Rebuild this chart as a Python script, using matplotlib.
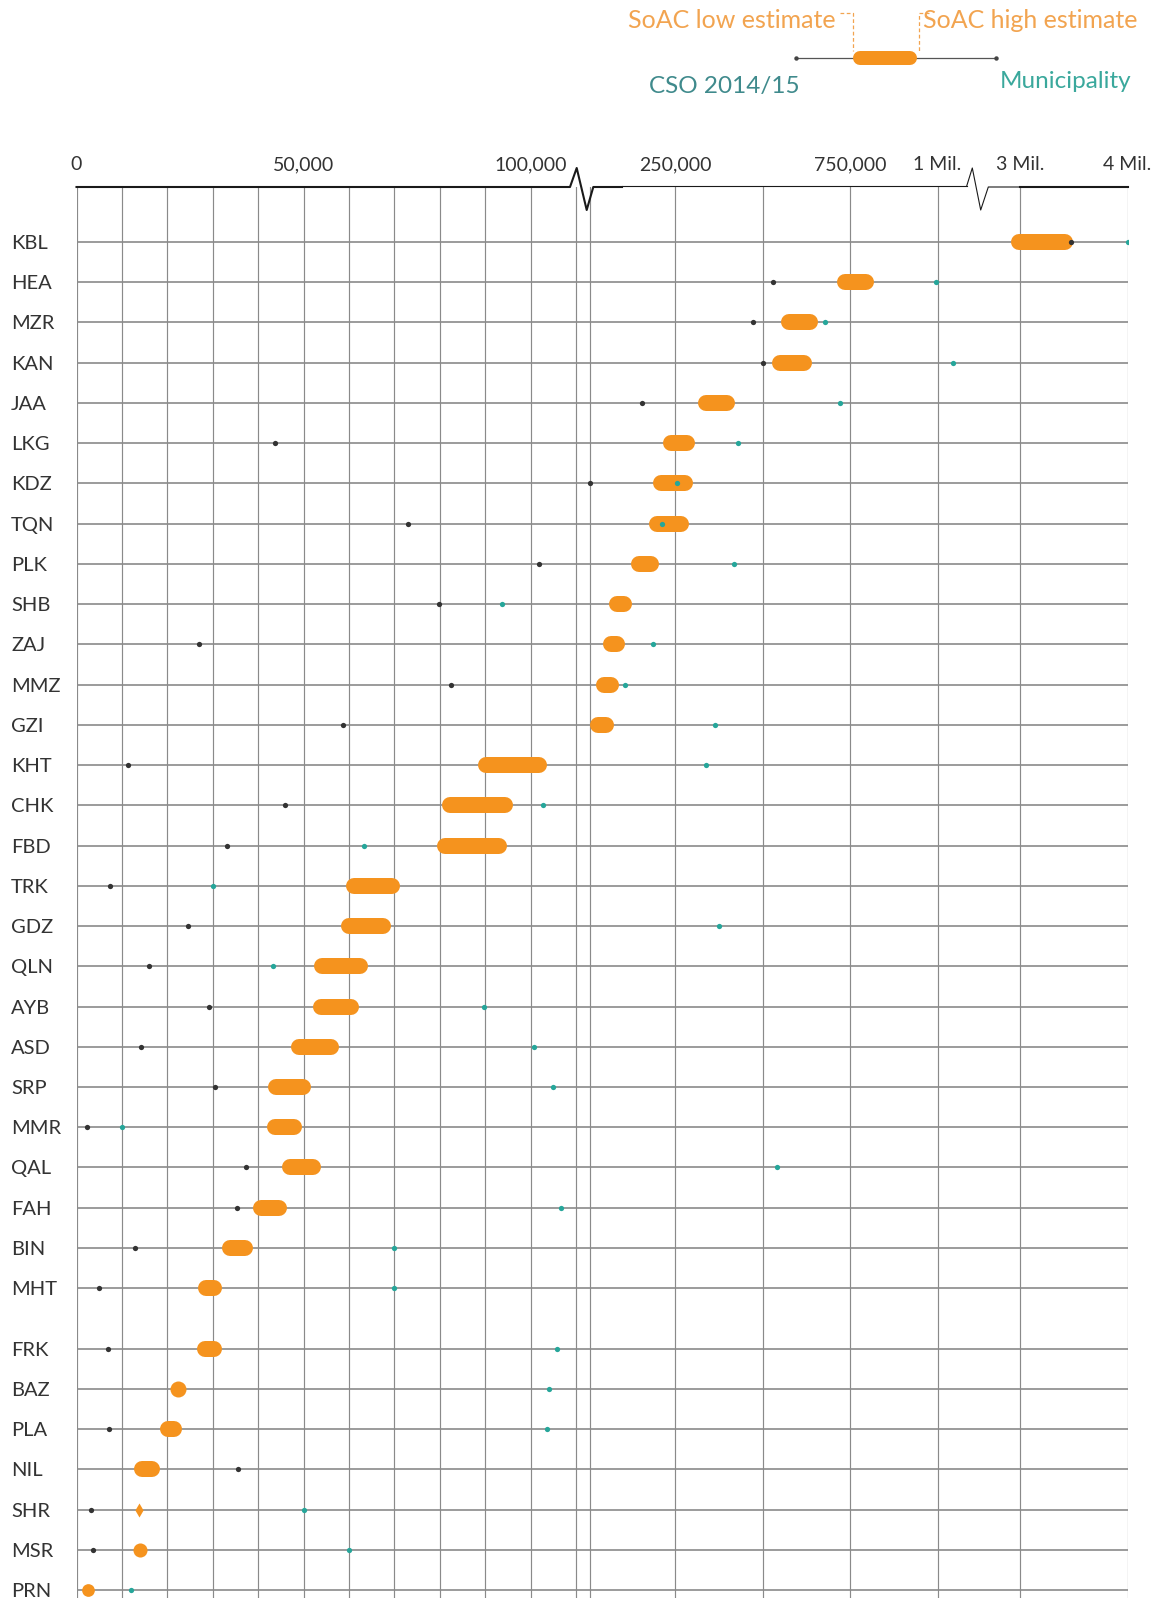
import numpy as np
import matplotlib
matplotlib.use("Agg")
import matplotlib.pyplot as plt
from matplotlib import transforms as mtransforms
from matplotlib.lines import Line2D
from matplotlib.ticker import NullLocator

# rows, top to bottom
rows = ["KBL", "HEA", "MZR", "KAN", "JAA", "LKG", "KDZ", "TQN", "PLK", "SHB",
        "ZAJ", "MMZ", "GZI", "KHT", "CHK", "FBD", "TRK", "GDZ", "QLN", "AYB",
        "ASD", "SRP", "MMR", "QAL", "FAH", "BIN", "MHT", "FRK", "BAZ", "PLA",
        "NIL", "SHR", "MSR", "PRN"]

# CSO 2014/15 estimate (nan = not visible in the chart)
cso = [3472000, 529000, 474000, 502000, 195000, 43700, 110800, 72900, 101800, 79900,
       27000, 82500, 58600, 11400, 46000, 33200, 7400, 24500, 16000, 29100,
       14200, 30500, 2400, 37300, 35400, 12800, 4900, 7000, np.nan, 7200,
       35500, 3200, 3600, np.nan]

# municipality estimate
municipality = [4000000, 995000, 678000, 1045000, 720000, 431000, 256600, 228400, 418600, 93600,
                213800, 168000, 364600, 339400, 102700, 63400, 30100, 375000, 43200, 89800,
                100800, 105000, 10100, 541000, 106700, 70000, 70000, 105800, 104100, 103700,
                np.nan, 50000, 60100, 12000]

# SoAC low / high estimates
soac_low = [2914000, 714000, 554000, 527000, 317000, 230000, 213800, 207500, 177500, 140600,
            131200, 120400, 110800, 88500, 80500, 79300, 59400, 58200, 52300, 52100,
            47200, 42200, 42000, 45300, 38800, 32100, 26800, 26600, 20500, 18400,
            12700, 12900, 12400, 1100]
soac_high = [3490000, 819000, 659000, 642000, 420000, 308000, 300600, 289700, 223300, 179500,
             168000, 158400, 149000, 103700, 96100, 94900, 71200, 69300, 64100, 62200,
             57800, 51600, 49600, 53800, 46400, 38800, 32100, 32100, 24100, 23200,
             18400, 14700, 15500, 3900]

tick_values = [0, 50000, 100000, 250000, 750000, 1000000, 3000000, 4000000]
tick_labels = ["0", "50,000", "100,000", "250,000", "750,000", "1 Mil.", "3 Mil.", "4 Mil."]
grid_values = list(range(0, 110001, 10000)) + [110001, 250000, 500000, 750000, 1000000, 3000000, 4000000]

ORANGE = "#F5931E"
LEG_ORANGE = "#F2A450"
TEAL = "#26A69A"
DARK = "#333333"
GRID = "#8A8A8A"

# broken axis: value -> pixel x (piecewise linear)
knot_v = [0, 110000, 110001, 250000, 1100000, 2700000, 4000000]
knot_x = [76.5, 576, 590, 675, 675 + 850000 / 250000 * 87.5, 988, 1127.5]

def fwd(v):
    return np.interp(v, knot_v, knot_x)

def inv(x):
    return np.interp(x, knot_x, knot_v)

W, H = 1155, 1598
fig = plt.figure(figsize=(W / 100, H / 100), dpi=100)
pix = mtransforms.Affine2D().scale(1 / W, -1 / H).translate(0, 1) + fig.transFigure

ax_top = 187
ax = fig.add_axes([76.5 / W, 0, (1127.5 - 76.5) / W, 1 - ax_top / H])
ax.set_xscale("function", functions=(fwd, inv))
ax.set_xlim(0, 4000000)

# row positions, a little extra space above FRK like the original
ypos = np.arange(len(rows), dtype=float)
ypos[rows.index("FRK"):] += 0.5
unit = (1590 - 242) / ypos[-1]
ax.set_ylim(ypos[-1] + (H - 1590) / unit, -(242 - ax_top) / unit)

for s in ax.spines.values():
    s.set_visible(False)

# grid
for g in grid_values:
    ax.axvline(g, color=GRID, lw=0.85, zorder=1)
ax.hlines(ypos, 0, 4000000, color=GRID, lw=1.2, zorder=1)

# ticks
ax.xaxis.set_ticks_position("top")
ax.set_xticks(tick_values)
ax.set_xticklabels(tick_labels, family="Lato", fontsize=14, color=DARK)
ax.xaxis.set_minor_locator(NullLocator())
ax.tick_params(axis="x", length=0, pad=10)
ax.set_yticks(ypos)
ax.set_yticklabels(rows, family="Lato", fontsize=14.5, color=DARK, ha="left")
ax.tick_params(axis="y", length=0, pad=(76.5 - 11) * 0.72)

# SoAC bars: pill shapes whose outer edges sit on low and high values
bar_px = 16
for lo, hi, y in zip(soac_low, soac_high, ypos):
    (x0, yd), (x1, _) = ax.transData.transform([(lo, y), (hi, y)])
    w = x1 - x0
    if w > bar_px + 3:
        a, b = ax.transData.inverted().transform([(x0 + bar_px / 2, yd), (x1 - bar_px / 2, yd)])
        ax.plot([a[0], b[0]], [y, y], color=ORANGE, lw=bar_px * 0.72,
                solid_capstyle="round", zorder=3)
    else:
        mid = ax.transData.inverted().transform([((x0 + x1) / 2, yd)])[0][0]
        if w >= 11:
            ax.plot(mid, y, "o", ms=min(w, bar_px) * 0.72, color=ORANGE, mec="none", zorder=3)
        else:
            k = w / 14
            diamond = [(-k, 0), (0, 1), (k, 0), (0, -1), (-k, 0)]
            ax.plot(mid, y, marker=diamond, ms=14 * 0.72, color=ORANGE, mec="none",
                    ls="none", zorder=3)

ax.plot(cso, ypos, "o", ms=3.8, color=DARK, mec="none", ls="none", zorder=4)
ax.plot(municipality, ypos, "o", ms=3.8, color=TEAL, mec="none", ls="none", zorder=4)

# top axis line with break marks
axis_pieces = [
    ([76.5, 570, 576.7, 586.7, 593.3, 622], [187, 187, 168, 210, 187, 187], 1.5),
    ([622, 966.7], [186, 186], 0.8),
    ([966.7, 972.3, 980.7, 988.3, 1020], [186, 168, 210, 187, 187], 0.8),
    ([1020, 1127.5], [187, 187], 1.5),
]
for xs, ys, lw in axis_pieces:
    fig.add_artist(Line2D(xs, ys, transform=pix, color="#1a1a1a", lw=lw, zorder=5))

# legend
fig.add_artist(Line2D([796, 996], [58, 58], transform=pix, color="#555555", lw=0.9))
fig.add_artist(Line2D([796, 996], [58, 58], transform=pix, color="#444444", ls="none",
                      marker="o", ms=3.2, mec="none"))
fig.add_artist(Line2D([860, 909.6], [58, 58], transform=pix, color=ORANGE, lw=14 * 0.72,
                      solid_capstyle="round"))
fig.add_artist(Line2D([840, 853, 853], [13, 13, 51], transform=pix, color=LEG_ORANGE,
                      lw=0.9, ls=(0, (3, 2))))
fig.add_artist(Line2D([929, 919, 919], [13, 13, 51], transform=pix, color=LEG_ORANGE,
                      lw=0.9, ls=(0, (3, 2))))
fig.text(836, 21, "SoAC low estimate", transform=pix, ha="right", va="center",
         family="Lato", fontsize=18, color=LEG_ORANGE)
fig.text(923, 21, "SoAC high estimate", transform=pix, ha="left", va="center",
         family="Lato", fontsize=18, color=LEG_ORANGE)
fig.text(724, 86, "CSO 2014/15", transform=pix, ha="center", va="center",
         family="Lato", fontsize=17.5, color="#3F8A8C")
fig.text(1066, 81, "Municipality", transform=pix, ha="center", va="center",
         family="Lato", fontsize=17.5, color="#3AA89C")

fig.savefig("out.png", dpi=100)
